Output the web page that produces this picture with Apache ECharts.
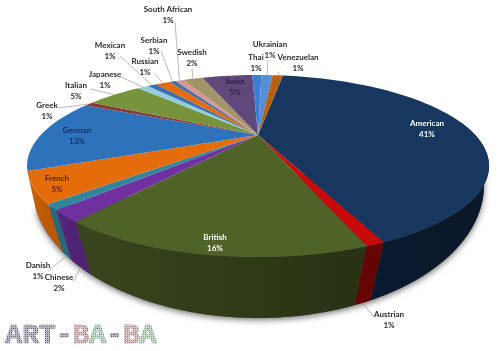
<!DOCTYPE html>
<html>
<head>
<meta charset="utf-8">
<style>
  html, body { margin: 0; padding: 0; background: #fff; }
  #chart { width: 500px; height: 351px; }
</style>
<script src="https://cdn.jsdelivr.net/npm/echarts@6/dist/echarts.min.js"></script>
</head>
<body>
<div id="chart"></div>
<script>
// clockwise from the top
const categories = ['American', 'Austrian', 'British', 'Chinese', 'Danish', 'French', 'German', 'Greek', 'Italian', 'Japanese', 'Mexican', 'Russian', 'Serbian', 'South African', 'Swedish', 'Swiss', 'Thai', 'Ukrainian', 'Venezuelan']
const shares = [40.9, 1.0, 16.0, 1.9, 1.0, 5.2, 13.2, 0.8, 5.2, 1.0, 0.85, 1.4, 0.6, 0.8, 1.9, 4.9, 0.9, 1.1, 1.0]
const colors = ['#17375E', '#C80A0A', '#4F6228', '#7030A0', '#31859C', '#E46C0A', '#2F72BC', '#8A3A36', '#77933C', '#93CDDD', '#3A6FB0', '#E46C0A', '#4472A8', '#D99694', '#A09468', '#5F497A', '#3A7FD5', '#558ED5', '#B8600F']

// label centres and leader starts, kept apart from the data
const labelAt = {
  American: [427, 129], Austrian: [389, 320], British: [215, 243], Chinese: [59, 283], Danish: [38, 271],
  French: [57, 184], German: [77, 136], Greek: [47, 111], Italian: [76, 91], Japanese: [105, 80],
  Mexican: [110, 51], Russian: [145, 67], Serbian: [154, 46], 'South African': [168, 15], Swedish: [192, 58],
  Swiss: [235, 87], Thai: [256, 63], Ukrainian: [270, 50], Venezuelan: [298, 63],
}
const leaderFrom = {
  Austrian: [374, 317], Chinese: [73, 282], Danish: [48, 271], Greek: [58, 108], Italian: [90, 89],
  Japanese: [121, 77], Mexican: [120, 56], Russian: [155, 74], Serbian: [161, 51], 'South African': [175, 22],
  Swedish: [192, 69], Ukrainian: [268, 60], Venezuelan: [279, 72],
}
const labelColors = { American: '#fff', British: '#fff', German: '#12305e', French: '#5a1c04', Swiss: '#2a1f45' }

// pie geometry: perspective disc, apex sits above the ellipse centre
const topRim = { cx: 258, cy: 166, a: 231, b: 91, k: 0.34 }
const bottomRim = { cx: 258, cy: 185, a: 226, b: 133, k: 0.243 }
const startDeg = 278.8
// only this part of the turn shows a wall, the rest is behind the top face
const wallFromDeg = 350
const wallToDeg = 516
const total = shares.reduce((x, y) => x + y)

function rimPoint(deg, rim) {
  const t = (deg * Math.PI) / 180
  const d = 1 - rim.k * Math.sin(t)
  const x = (Math.cos(t) * Math.sqrt(1 - rim.k * rim.k)) / d
  const y = (Math.sin(t) - rim.k) / d
  return [rim.cx + rim.a * x, rim.cy + rim.b * y]
}

const apex = [topRim.cx, topRim.cy - topRim.k * topRim.b]

const slices = []
let acc = startDeg
shares.forEach((v) => {
  const sweep = (v / total) * 360
  slices.push([acc, acc + sweep])
  acc += sweep
})

function arc(from, to, rim) {
  const pts = []
  const n = Math.max(2, Math.ceil((to - from) / 2))
  for (let i = 0; i <= n; i += 1) pts.push(rimPoint(from + ((to - from) * i) / n, rim))
  return pts
}

// wall gets darker going from the left to the right of the pie
function wallShade(x) {
  const stops = [[27, 0.9], [90, 0.66], [250, 0.6], [400, 0.48], [490, 0.42]]
  for (let i = 1; i < stops.length; i += 1) {
    if (x <= stops[i][0]) {
      const p = (x - stops[i - 1][0]) / (stops[i][0] - stops[i - 1][0])
      return stops[i - 1][1] + (stops[i][1] - stops[i - 1][1]) * Math.max(p, 0)
    }
  }
  return 0.42
}

function shade(hex, f) {
  const n = parseInt(hex.slice(1), 16)
  const c = [n >> 16, (n >> 8) & 255, n & 255].map((v) => Math.round(v * f))
  return `rgb(${c[0]},${c[1]},${c[2]})`
}

function renderWall(params, api) {
  const i = api.value(0)
  const from = Math.max(slices[i][0], wallFromDeg)
  const to = Math.min(slices[i][1], wallToDeg)
  if (to <= from) return null
  const top = arc(from, to, topRim)
  const bottom = arc(from, to, bottomRim)
  const x1 = Math.min(top[0][0], top[top.length - 1][0])
  const x2 = Math.max(top[0][0], top[top.length - 1][0])
  const col = colors[i]
  return {
    type: 'polygon',
    shape: { points: top.concat(bottom.reverse()) },
    style: {
      fill: {
        type: 'linear', x: x1, y: 0, x2: x2 > x1 ? x2 : x1 + 1, y2: 0, global: true,
        colorStops: [
          { offset: 0, color: shade(col, wallShade(x1)) },
          { offset: 1, color: shade(col, wallShade(x2)) },
        ],
      },
    },
  }
}

function renderFace(params, api) {
  const i = api.value(0)
  const [from, to] = slices[i]
  return {
    type: 'polygon',
    shape: { points: [apex].concat(arc(from, to, topRim)) },
    style: { fill: colors[i] },
  }
}

function renderShadow() {
  return {
    type: 'polygon',
    shape: { points: arc(0, 156, bottomRim) },
    style: { fill: '#555', shadowBlur: 6, shadowColor: 'rgba(0,0,0,0.55)', shadowOffsetY: 2 },
  }
}

function renderLabel(params, api) {
  const i = api.value(0)
  const name = categories[i]
  const [x, y] = labelAt[name]
  const children = []
  if (leaderFrom[name]) {
    const mid = (slices[i][0] + slices[i][1]) / 2
    const rim = Math.sin((mid * Math.PI) / 180) > 0 ? bottomRim : topRim
    const end = rimPoint(mid, rim)
    children.push({
      type: 'line',
      shape: { x1: leaderFrom[name][0], y1: leaderFrom[name][1], x2: end[0], y2: end[1] },
      style: { stroke: '#a6a6a6', lineWidth: 0.8 },
    })
  }
  children.push({
    type: 'text',
    style: {
      x, y,
      text: `${name}\n${Math.round((shares[i] / total) * 100)}%`,
      fill: labelColors[name] || '#2b2b2b',
      font: 'bold 8px Lato',
      lineHeight: 10.5,
      align: 'center',
      verticalAlign: 'middle',
    },
  })
  return { type: 'group', children }
}

// dotted screen laid over the watermark
const dots = document.createElement('canvas')
dots.width = 2
dots.height = 2
const dotCtx = dots.getContext('2d')
dotCtx.fillStyle = 'rgba(255,255,255,0.55)'
dotCtx.fillRect(0, 0, 2, 2)
dotCtx.clearRect(0, 0, 1, 1)

const markFont = { fontFamily: 'Liberation Mono', fontSize: 28, fontWeight: 'bold', stroke: '#05050f', lineWidth: 0.7 }

const rows = categories.map((c, i) => [i])
const chart = echarts.init(document.getElementById('chart'), null, { renderer: 'canvas' })
chart.setOption({
  animation: false,
  backgroundColor: '#fff',
  series: [
    { type: 'custom', coordinateSystem: 'none', silent: true, z: 1, renderItem: renderShadow, data: [[0]] },
    { type: 'custom', coordinateSystem: 'none', silent: true, z: 2, renderItem: renderWall, data: rows },
    { type: 'custom', coordinateSystem: 'none', silent: true, z: 3, renderItem: renderFace, data: rows },
    { type: 'custom', coordinateSystem: 'none', silent: true, z: 4, renderItem: renderLabel, data: rows },
  ],
  graphic: [
    {
      type: 'text', left: 5, top: 322, z: 10,
      style: {
        text: '{d|ART-}{r|B}{g|A}{d|-}{r|B}{g|A}',
        rich: {
          d: { ...markFont, fill: '#6a6a80' },
          r: { ...markFont, fill: '#b08080' },
          g: { ...markFont, fill: '#80b088' },
        },
      },
    },
    {
      type: 'rect', left: 3, top: 322, z: 11, silent: true,
      shape: { width: 158, height: 27 },
      style: { fill: { image: dots, repeat: 'repeat' } },
    },
  ],
})
</script>
</body>
</html>
